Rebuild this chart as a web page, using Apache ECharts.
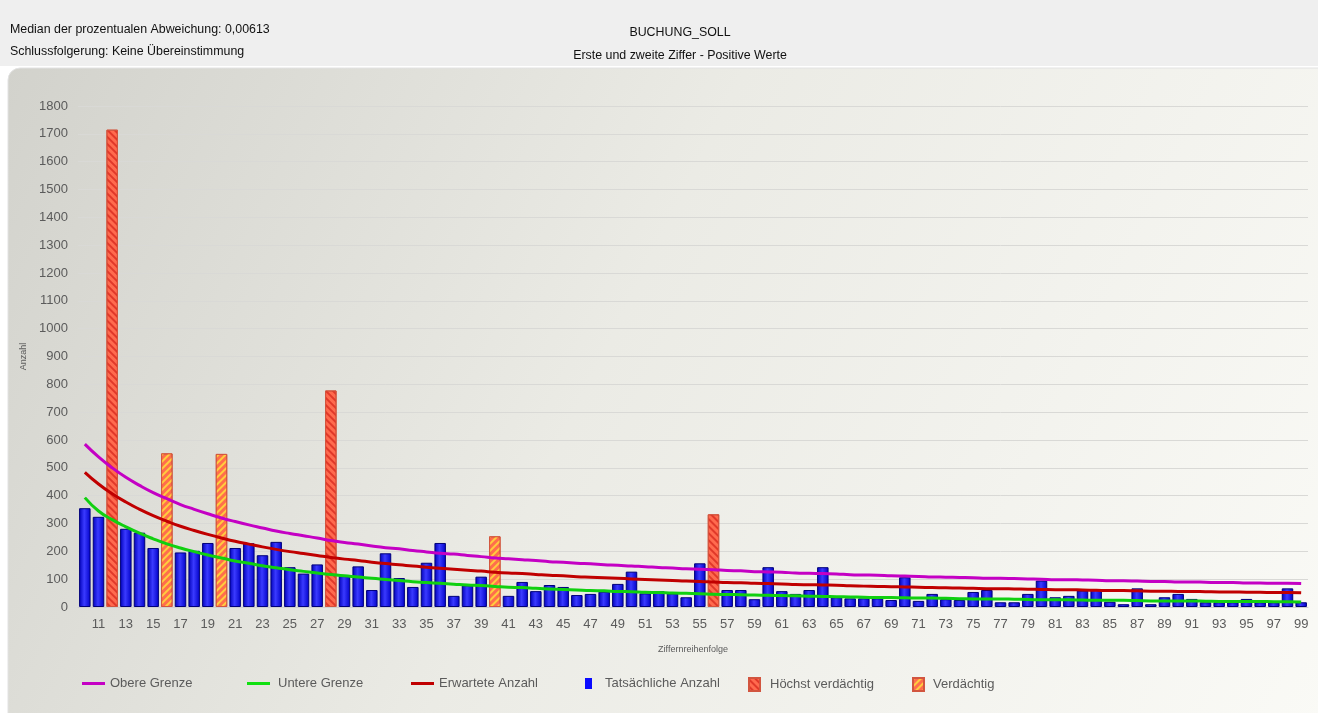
<!DOCTYPE html>
<html>
<head>
<meta charset="utf-8">
<title>BUCHUNG_SOLL</title>
<script src="https://cdn.jsdelivr.net/npm/echarts@6/dist/echarts.min.js"></script>
<style>
  html, body { margin: 0; padding: 0; background: #fff; }
  #chart { width: 1318px; height: 713px; }
</style>
</head>
<body>
<div id="chart"></div>
<script>
// Ziffern 10..99
const categories = [
  "10","11","12","13","14","15","16","17","18","19",
  "20","21","22","23","24","25","26","27","28","29",
  "30","31","32","33","34","35","36","37","38","39",
  "40","41","42","43","44","45","46","47","48","49",
  "50","51","52","53","54","55","56","57","58","59",
  "60","61","62","63","64","65","66","67","68","69",
  "70","71","72","73","74","75","76","77","78","79",
  "80","81","82","83","84","85","86","87","88","89",
  "90","91","92","93","94","95","96","97","98","99"
];

// Tatsächliche Anzahl (null = als verdächtig markiert)
const actual = [
  355, 324, null, 281, 267, 212, null, 196, 202, 230,
  null, 212, 229, 186, 234, 143, 120, 153, null, 111,
  146, 61, 193, 104, 72, 159, 230, 40, 78, 109,
  null, 40, 90, 57, 79, 72, 43, 47, 55, 83,
  127, 49, 57, 49, 35, 157, null, 61, 61, 28,
  143, 57, 47, 61, 143, 35, 31, 31, 31, 25,
  107, 22, 47, 28, 25, 54, 61, 17, 17, 47,
  95, 35, 40, 59, 64, 19, 10, 67, 10, 35,
  47, 29, 17, 17, 17, 29, 17, 17, 67, 17
];

// Höchst verdächtig / Verdächtig
const highSuspect = [["12", 1715], ["28", 778], ["56", 333]];
const suspect = [["16", 552], ["20", 550], ["40", 254]];

// Erwartete Anzahl
const expected = [
  484, 442, 407, 377, 351, 328, 308, 290, 275, 261,
  248, 236, 226, 216, 207, 199, 192, 185, 178, 172,
  167, 161, 156, 152, 147, 143, 139, 136, 132, 129,
  125, 122, 120, 117, 114, 112, 109, 107, 105, 103,
  101, 99, 97, 95, 93, 92, 90, 88, 87, 85,
  84, 83, 81, 80, 79, 78, 76, 75, 74, 73,
  72, 71, 70, 69, 68, 67, 66, 66, 65, 64,
  63, 62, 62, 61, 60, 59, 59, 58, 57, 57,
  56, 56, 55, 54, 54, 53, 53, 52, 52, 51
];

// Obere Grenze
const upper = [
  585, 539, 500, 466, 437, 411, 389, 368, 351, 335,
  320, 307, 295, 284, 273, 264, 256, 248, 239, 232,
  226, 219, 213, 209, 203, 198, 193, 190, 185, 181,
  176, 173, 170, 167, 163, 161, 157, 155, 152, 150,
  147, 145, 142, 140, 137, 136, 134, 131, 130, 127,
  126, 125, 122, 121, 120, 119, 116, 115, 114, 112,
  111, 110, 108, 107, 106, 105, 103, 103, 102, 101,
  100, 98, 98, 97, 96, 94, 94, 93, 92, 92,
  90, 90, 89, 88, 88, 86, 86, 85, 85, 84
];

// Untere Grenze
const lower = [
  393, 345, 314, 288, 265, 245, 227, 212, 199, 187,
  176, 165, 157, 148, 141, 134, 128, 122, 117, 112,
  108, 103, 99, 95, 91, 88, 85, 82, 79, 77,
  74, 71, 70, 67, 65, 63, 61, 59, 58, 56,
  55, 53, 52, 50, 49, 48, 46, 45, 44, 43,
  42, 41, 40, 39, 38, 37, 36, 35, 34, 34,
  33, 32, 32, 31, 30, 29, 29, 29, 28, 27,
  26, 26, 26, 25, 24, 24, 24, 23, 22, 22,
  22, 22, 21, 20, 20, 20, 20, 19, 19, 18
];

const yMin = 0;
const yMax = 1800;
const yStep = 100;

const FONT = "Liberation Sans, Arial, sans-serif";
const labelColor = "#5b5b5b";

const chart = echarts.init(document.getElementById("chart"));

const blueFill = new echarts.graphic.LinearGradient(0, 0, 1, 0, [
  { offset: 0, color: "#0000b8" },
  { offset: 0.45, color: "#3a3aff" },
  { offset: 1, color: "#0000c8" },
]);

// eine Legende pro Eintrag, damit die Abstände wie im Original sind
function legendAt(left, name, w, h, textGap, itemStyle) {
  return {
    left: left,
    top: 677,
    padding: 0,
    data: [{ name: name, icon: "rect", itemStyle: itemStyle }],
    itemWidth: w,
    itemHeight: h,
    textStyle: { fontFamily: FONT, fontSize: 13, color: labelColor, padding: [0, 0, 0, textGap] },
  };
}

chart.setOption({
  animation: false,
  textStyle: { fontFamily: FONT },
  graphic: [
    {
      type: "rect",
      z: -10,
      shape: { x: 0, y: 0, width: 1318, height: 66 },
      style: { fill: "#efefef" },
      silent: true,
    },
    {
      type: "rect",
      z: -10,
      shape: { x: 8, y: 68, width: 1320, height: 650, r: [12, 0, 0, 0] },
      style: {
        fill: new echarts.graphic.LinearGradient(0, 0, 1, 1, [
          { offset: 0, color: "#d2d2cc" },
          { offset: 0.45, color: "#ebebe5" },
          { offset: 1, color: "#fafaf6" },
        ]),
        stroke: "#e2e2e2",
        lineWidth: 1,
      },
      silent: true,
    },
  ],
  title: [
    {
      text: "Median der prozentualen Abweichung: 0,00613\nSchlussfolgerung: Keine Übereinstimmung",
      left: 5,
      top: 14,
      textStyle: { fontFamily: FONT, fontSize: 12.4, fontWeight: "normal", color: "#111", lineHeight: 22 },
    },
    {
      text: "BUCHUNG_SOLL",
      subtext: "Erste und zweite Ziffer - Positive Werte",
      left: 675,
      textAlign: "center",
      top: 22,
      itemGap: 11,
      textStyle: { fontFamily: FONT, fontSize: 12.4, fontWeight: "normal", color: "#111" },
      subtextStyle: { fontFamily: FONT, fontSize: 12.4, color: "#111" },
    },
  ],
  legend: [
    legendAt(82, "Obere Grenze", 23, 3, 0),
    legendAt(247, "Untere Grenze", 23, 3, 3),
    legendAt(411, "Erwartete Anzahl", 23, 3, 0),
    legendAt(585, "Tatsächliche Anzahl", 7, 11, 8, { borderWidth: 0, color: "#0a0aff" }),
    legendAt(748, "Höchst verdächtig", 11, 13, 5),
    legendAt(912, "Verdächtig", 11, 13, 4),
  ],
  grid: { left: 78, right: 10, top: 106, bottom: 106 },
  xAxis: {
    type: "category",
    data: categories,
    name: "Ziffernreihenfolge",
    nameLocation: "middle",
    nameGap: 38,
    nameTextStyle: { fontSize: 9, color: labelColor },
    axisTick: { show: false },
    axisLine: { lineStyle: { color: "#d0d0d0" } },
    axisLabel: {
      interval: (i) => i % 2 === 1,
      margin: 11,
      fontSize: 13,
      color: labelColor,
    },
  },
  yAxis: {
    type: "value",
    min: yMin,
    max: yMax,
    interval: yStep,
    name: "Anzahl",
    nameLocation: "middle",
    nameRotate: 90,
    nameGap: 48,
    nameTextStyle: { fontSize: 9, color: labelColor },
    axisLine: { show: false },
    axisTick: { show: false },
    axisLabel: { fontSize: 13, color: labelColor, margin: 10, formatter: (v) => String(v) },
    splitLine: { lineStyle: { color: "#d9d9d6", width: 1 } },
  },
  series: [
    {
      name: "Tatsächliche Anzahl",
      type: "bar",
      data: actual,
      barWidth: "84%",
      barGap: "-100%",
      itemStyle: { color: blueFill, borderColor: "#00007a", borderWidth: 1 },
      z: 2,
    },
    {
      name: "Höchst verdächtig",
      type: "bar",
      data: highSuspect,
      barWidth: "84%",
      barGap: "-100%",
      itemStyle: {
        color: "#ff6a4e",
        borderColor: "#d2553f",
        borderWidth: 1,
        decal: {
          symbol: "rect",
          dashArrayX: [1, 0],
          dashArrayY: [2, 3],
          rotation: Math.PI / 4,
          color: "rgba(215,40,30,0.75)",
        },
      },
      z: 2,
    },
    {
      name: "Verdächtig",
      type: "bar",
      data: suspect,
      barWidth: "84%",
      barGap: "-100%",
      itemStyle: {
        color: "#ff6e4c",
        borderColor: "#d2553f",
        borderWidth: 1,
        decal: {
          symbol: "rect",
          dashArrayX: [1, 0],
          dashArrayY: [2, 3],
          rotation: -Math.PI / 4,
          color: "rgba(255,215,60,0.9)",
        },
      },
      z: 2,
    },
    {
      name: "Obere Grenze",
      type: "line",
      data: upper,
      smooth: true,
      showSymbol: false,
      lineStyle: { color: "#c400c4", width: 3 },
      itemStyle: { color: "#c400c4" },
      z: 5,
    },
    {
      name: "Untere Grenze",
      type: "line",
      data: lower,
      smooth: true,
      showSymbol: false,
      lineStyle: { color: "#10d010", width: 3 },
      itemStyle: { color: "#10e010" },
      z: 5,
    },
    {
      name: "Erwartete Anzahl",
      type: "line",
      data: expected,
      smooth: true,
      showSymbol: false,
      lineStyle: { color: "#c00000", width: 3 },
      itemStyle: { color: "#c00000" },
      z: 5,
    },
  ],
});

window.addEventListener("resize", () => chart.resize());
</script>
</body>
</html>
